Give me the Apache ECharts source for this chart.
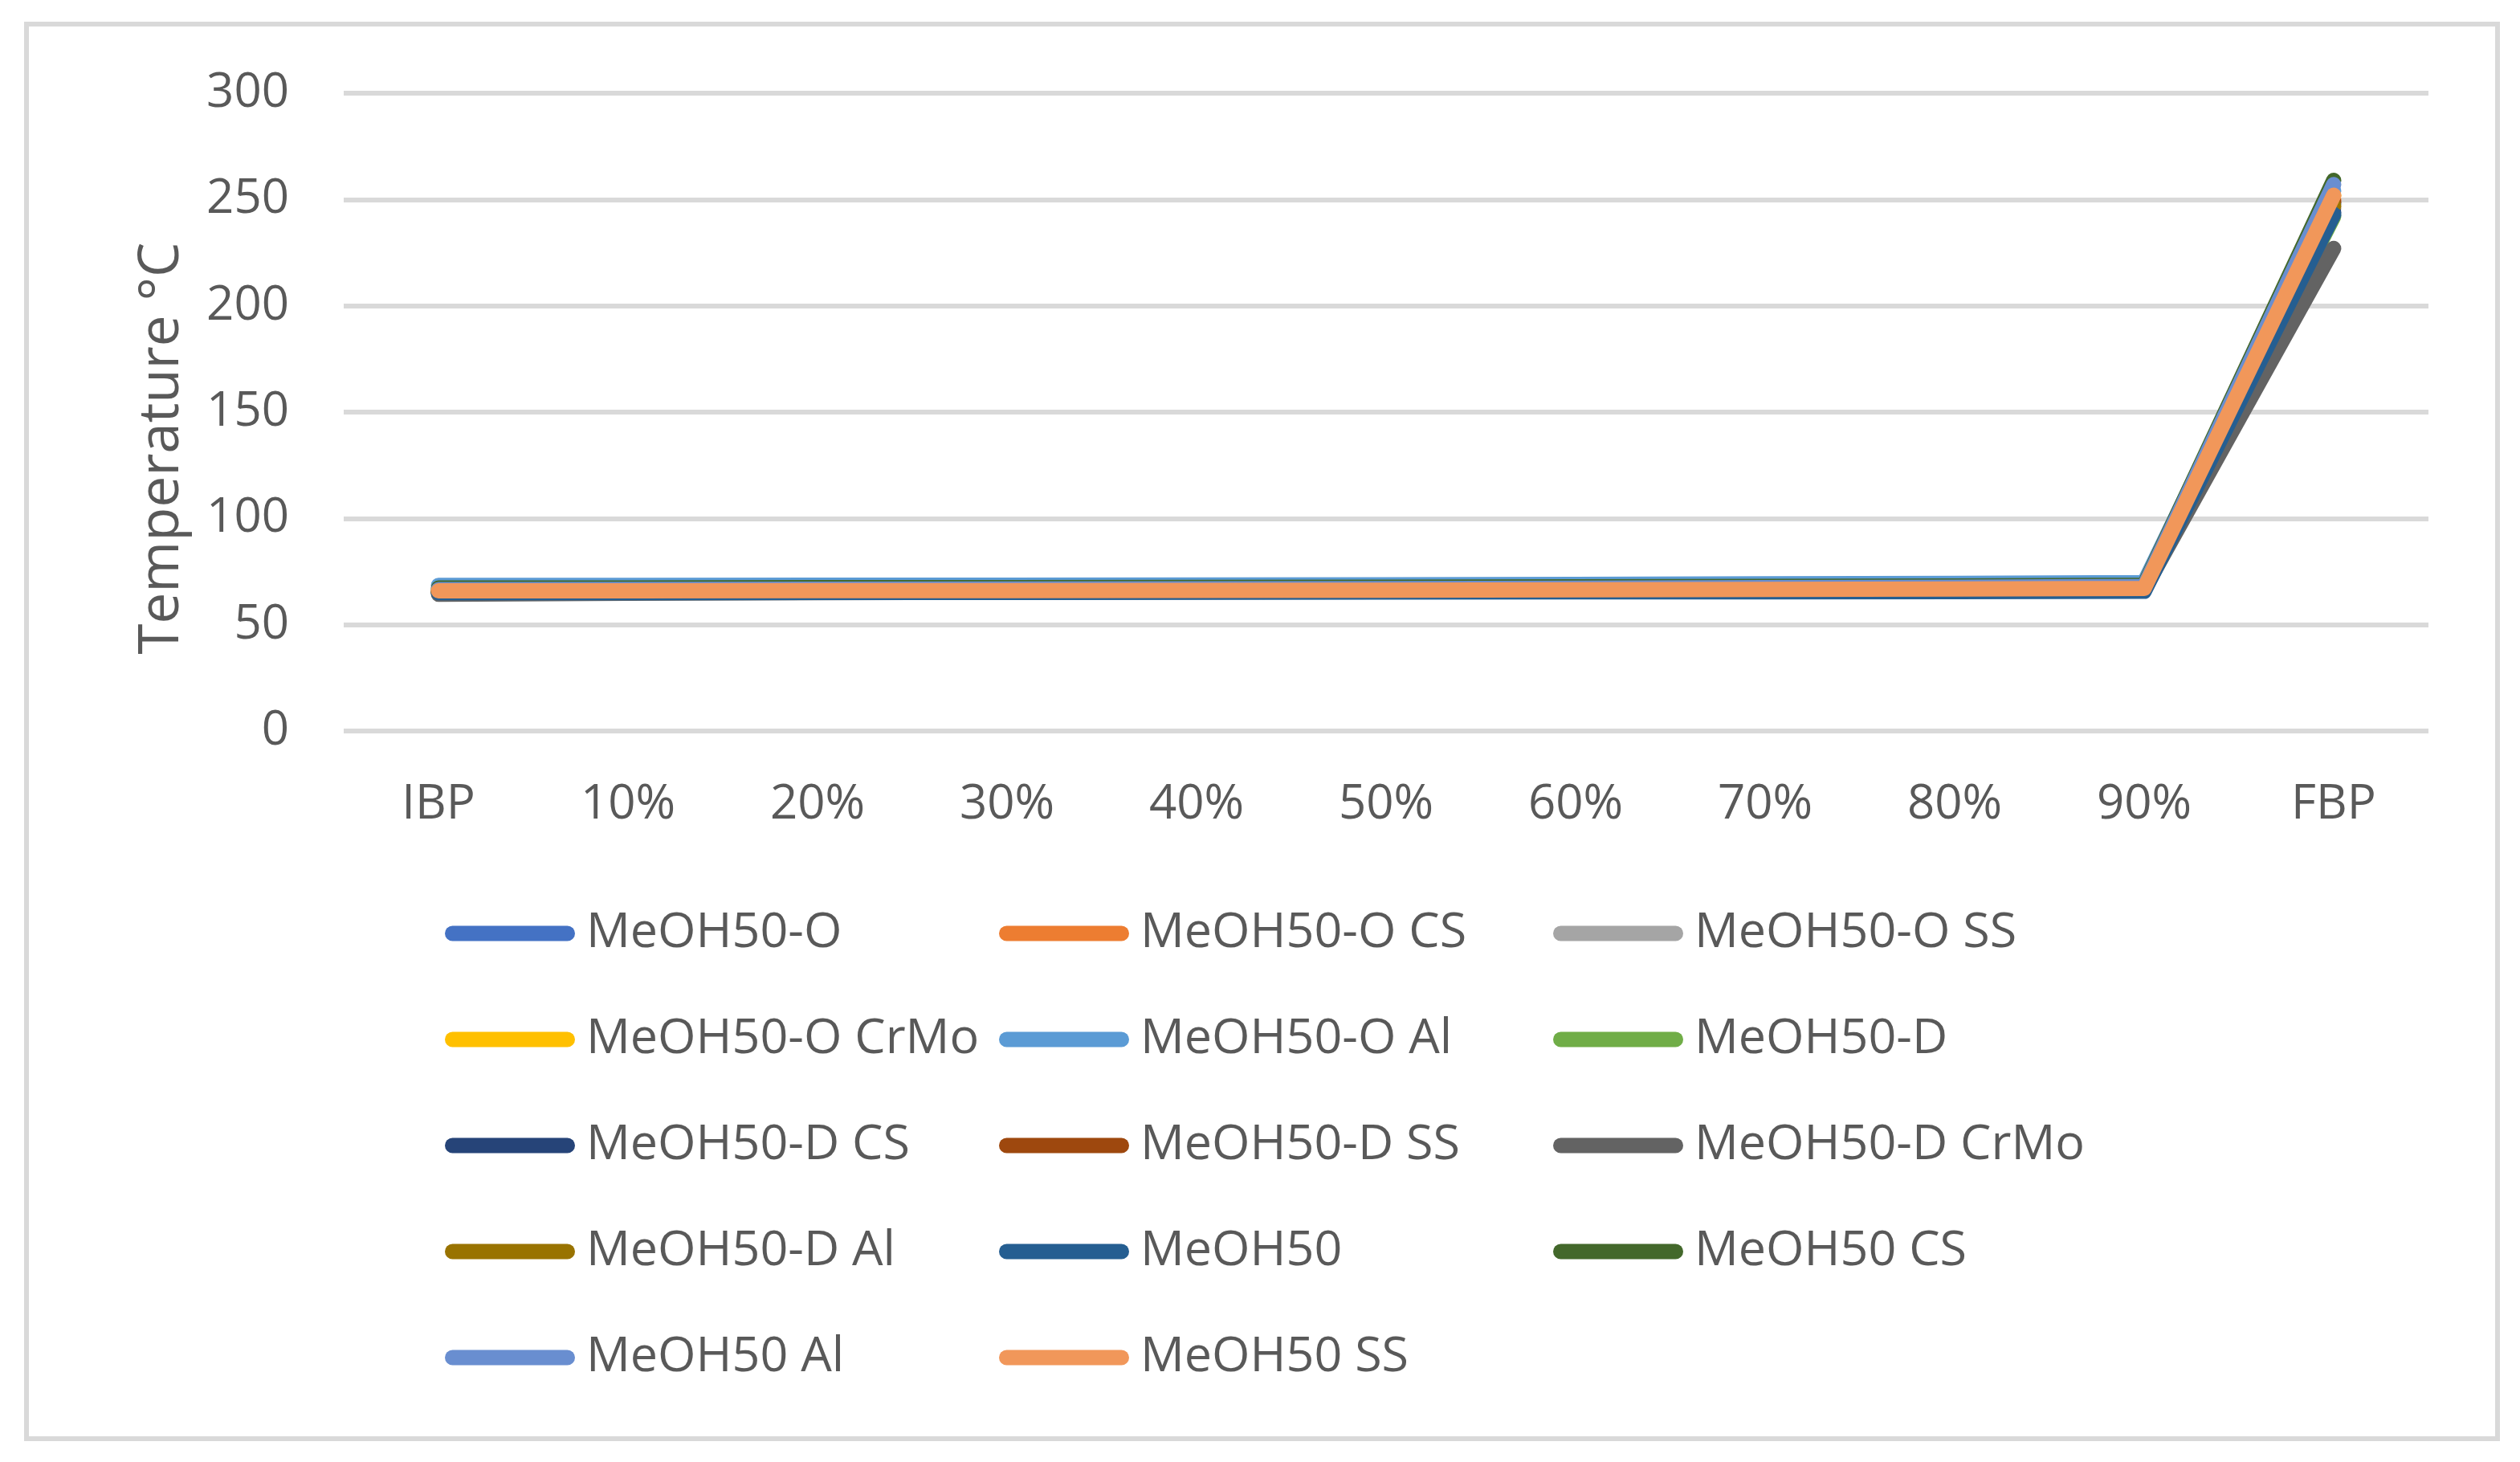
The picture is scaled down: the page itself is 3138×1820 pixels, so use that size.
<!DOCTYPE html>
<html>
<head>
<meta charset="utf-8">
<script src="https://cdn.jsdelivr.net/npm/echarts@6/dist/echarts.min.js"></script>
<style>
html,body{margin:0;padding:0;background:#fff;}
#chart{width:3138px;height:1820px;}
</style>
</head>
<body>
<div id="chart"></div>
<script>
const categories = ['IBP','10%','20%','30%','40%','50%','60%','70%','80%','90%','FBP'];
const yTicks = [0, 50, 100, 150, 200, 250, 300];
const axisTitle = 'Temperature °C';

const seriesNames = ['MeOH50-O','MeOH50-O CS','MeOH50-O SS','MeOH50-O CrMo','MeOH50-O Al','MeOH50-D',
  'MeOH50-D CS','MeOH50-D SS','MeOH50-D CrMo','MeOH50-D Al','MeOH50','MeOH50 CS','MeOH50 Al','MeOH50 SS'];
const seriesColors = ['#4472C4','#ED7D31','#A5A5A5','#FFC000','#5B9BD5','#70AD47',
  '#264478','#9E480E','#636363','#997300','#255E91','#43682B','#698ED0','#F1975A'];

const meoh50_O       = [65.5, 65.8, 66.0, 66.1, 66.3, 66.4, 66.6, 66.8, 67.0, 67.4, 248];
const meoh50_O_CS    = [65.8, 66.0, 66.2, 66.3, 66.4, 66.6, 66.7, 66.9, 67.1, 67.5, 250];
const meoh50_O_SS    = [65.2, 65.6, 65.9, 66.0, 66.2, 66.3, 66.5, 66.7, 66.9, 67.3, 246];
const meoh50_O_CrMo  = [66.0, 66.2, 66.3, 66.4, 66.5, 66.7, 66.8, 67.0, 67.2, 67.6, 252];
const meoh50_O_Al    = [68.5, 68.5, 68.6, 68.6, 68.7, 68.8, 69.0, 69.2, 69.4, 69.8, 254];
const meoh50_D       = [65.4, 65.6, 65.8, 65.9, 66.0, 66.2, 66.4, 66.6, 66.8, 67.2, 242];
const meoh50_D_CS    = [65.0, 65.3, 65.5, 65.6, 65.8, 66.0, 66.1, 66.3, 66.5, 66.9, 244];
const meoh50_D_SS    = [65.6, 65.8, 66.0, 66.1, 66.3, 66.5, 66.6, 66.8, 67.0, 67.4, 249];
const meoh50_D_CrMo  = [64.3, 64.8, 65.1, 65.3, 65.5, 65.6, 65.8, 66.0, 66.2, 66.6, 227];
const meoh50_D_Al    = [65.3, 65.6, 65.8, 66.0, 66.1, 66.3, 66.5, 66.7, 66.9, 67.3, 247];
const meoh50         = [65.1, 65.1, 65.2, 65.2, 65.3, 65.4, 65.5, 65.5, 65.6, 65.7, 243];
const meoh50_CS      = [67.3, 67.3, 67.4, 67.4, 67.5, 67.6, 67.8, 68.0, 68.2, 68.6, 259];
const meoh50_Al      = [66.5, 66.6, 66.7, 66.8, 66.9, 67.0, 67.2, 67.4, 67.6, 68.0, 257];
const meoh50_SS      = [65.9, 65.9, 66.0, 66.0, 66.1, 66.2, 66.4, 66.6, 66.8, 67.1, 252];

const seriesData = [meoh50_O, meoh50_O_CS, meoh50_O_SS, meoh50_O_CrMo, meoh50_O_Al, meoh50_D,
  meoh50_D_CS, meoh50_D_SS, meoh50_D_CrMo, meoh50_D_Al, meoh50, meoh50_CS, meoh50_Al, meoh50_SS];

const FONT = '"Open Sans", "Noto Sans", sans-serif';
const TXT = '#595959';
const GRIDC = '#D9D9D9';

const chart = echarts.init(document.getElementById('chart'), null, {renderer: 'canvas'});

const legendIcon = 'path://M9.5,0 L152.5,0 A9.5,9.5 0 0 1 152.5,19 L9.5,19 A9.5,9.5 0 0 1 9.5,0 Z';
const columns = [[0,3,6,9,12],[1,4,7,10,13],[2,5,8,11]];
const colLeft = [554, 1244, 1934];
const legends = columns.map((idxs, c) => ({
  orient: 'vertical',
  left: colLeft[c],
  top: 1129,
  padding: 0,
  itemGap: 66,
  itemWidth: 162,
  itemHeight: 19,
  icon: legendIcon,
  selectedMode: false,
  data: idxs.map(i => seriesNames[i]),
  textStyle: {fontFamily: FONT, fontSize: 61, color: TXT, lineHeight: 66, padding: [0,0,0,9]}
}));

const option = {
  backgroundColor: '#fff',
  animation: false,
  grid: {left: 428, right: 3138 - 3024, top: 116, bottom: 1820 - 910, containLabel: false},
  xAxis: {
    type: 'category',
    data: categories,
    boundaryGap: true,
    axisLine: {show: false},
    axisTick: {show: false},
    axisLabel: {fontFamily: FONT, fontSize: 60, color: TXT, margin: 62}
  },
  yAxis: {
    type: 'value',
    min: yTicks[0],
    max: yTicks[yTicks.length - 1],
    interval: 50,
    axisLine: {show: false},
    axisTick: {show: false},
    axisLabel: {fontFamily: FONT, fontSize: 60, color: TXT, margin: 68, padding: [14, 0, 0, 0]},
    splitLine: {lineStyle: {color: GRIDC, width: 6}}
  },
  legend: legends,
  graphic: [
    {type: 'rect', shape: {x: 33, y: 30, width: 3077, height: 1761},
      style: {fill: 'none', stroke: GRIDC, lineWidth: 6}, silent: true, z: -1},
    {type: 'text', x: 202, y: 558, rotation: Math.PI / 2,
      style: {text: axisTitle, fontFamily: FONT, fontSize: 69, fill: TXT, align: 'center', verticalAlign: 'middle'}}
  ],
  series: seriesNames.map((name, i) => ({
    name: name,
    type: 'line',
    data: seriesData[i],
    color: seriesColors[i],
    symbol: 'none',
    showSymbol: false,
    clip: false,
    lineStyle: {color: seriesColors[i], width: 19, cap: 'round', join: 'round'},
    itemStyle: {color: seriesColors[i]},
    emphasis: {disabled: true}
  }))
};
chart.setOption(option);
</script>
</body>
</html>
